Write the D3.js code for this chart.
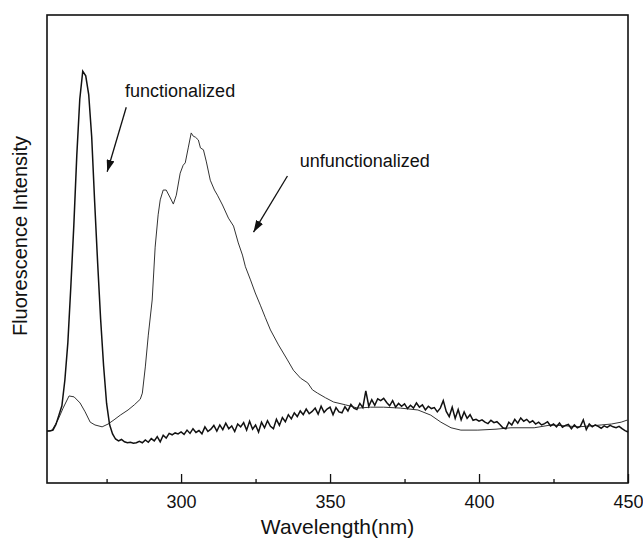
<!DOCTYPE html>
<html>
<head>
<meta charset="utf-8">
<script src="https://cdn.jsdelivr.net/npm/d3@7"></script>
<style>
  body { margin: 0; background: #ffffff; }
  text { font-family: "Liberation Sans", Arial, sans-serif; fill: #111; }
</style>
</head>
<body>
<div id="chart"></div>
<script>
// Fluorescence spectra, functionalized vs unfunctionalized

// functionalized: sharp peak near 267 nm, then a noisy baseline
const funcWavelength = [255, 256, 257, 258, 259, 260, 261, 262, 263, 264, 265, 266, 267, 268, 269, 270, 271, 272, 273, 274, 275, 276, 277,
  278, 279, 280, 281, 282, 283, 284, 285, 286, 287, 288, 289, 290, 291, 292, 293, 294, 295, 296, 297, 298, 299,
  300, 301, 302, 303, 304, 305, 306, 307, 308, 309, 310, 311, 312, 313, 314, 315, 316, 317, 318, 319,
  320, 321, 322, 323, 324, 325, 326, 327, 328, 329, 330, 331, 332, 333, 334, 335, 336, 337, 338, 339,
  340, 341, 342, 343, 344, 345, 346, 347, 348, 349, 350, 351, 352, 353, 354, 355, 356, 357, 358, 359,
  360, 361, 362, 363, 364, 365, 366, 367, 368, 369, 370, 371, 372, 373, 374, 375, 376, 377, 378, 379,
  380, 381, 382, 383, 384, 385, 386, 387, 388, 389, 390, 391, 392, 393, 394, 395, 396, 397, 398, 399,
  400, 401, 402, 403, 404, 405, 406, 407, 408, 409, 410, 411, 412, 413, 414, 415, 416, 417, 418, 419,
  420, 421, 422, 423, 424, 425, 426, 427, 428, 429, 430, 431, 432, 433, 434, 435, 436, 437, 438, 439,
  440, 441, 442, 443, 444, 445, 446, 447, 448, 449, 450];
const funcIntensity = [11.1, 11.1, 11.3, 12.5, 14.5, 16.5, 22, 30, 42, 55, 70, 82, 88, 87, 83, 74, 60, 47, 35, 25, 17, 12.5, 10.5,
  9.4, 9.0, 9.3, 8.8, 8.6, 8.7, 8.5, 8.6, 8.9, 8.6, 9.2, 8.7, 9.5, 9.0, 9.9, 8.8, 10.2, 9.6, 10.6, 10.3, 10.7, 10.5,
  10.9, 10.4, 11.3, 10.6, 11.6, 10.8, 11.2, 10.5, 12.0, 11.0, 11.5, 12.3, 11.1, 12.4, 11.4, 12.8, 11.6, 12.2, 11.0, 12.6,
  12.0, 12.9, 11.3, 13.2, 11.5, 12.4, 10.9, 13.0, 11.8, 13.3, 12.1, 11.6, 13.6, 12.3, 14.0, 13.1, 14.6, 13.7, 15.0, 14.2,
  15.4, 14.6, 15.8, 14.8, 15.3, 16.0, 14.7, 16.4, 15.1, 15.8, 16.2, 14.6, 16.1, 15.2, 15.0, 16.3, 15.4, 16.8, 16.0, 15.7,
  17.0, 16.1, 19.7, 16.4, 17.8, 16.6, 18.0, 17.6, 18.1, 17.2, 16.5, 17.6, 16.2, 17.0, 16.4, 16.9, 15.9, 16.6, 16.0, 17.1,
  16.2, 16.7, 15.6, 16.4, 15.9, 16.1, 15.2, 16.0, 17.6, 15.3, 14.2, 16.2, 13.8, 15.7, 13.5, 15.2, 13.8, 14.6, 13.4, 13.6,
  13.2, 13.5, 13.0, 12.7, 13.4, 12.9, 13.1, 12.5, 11.8, 11.6, 13.0, 12.4, 13.6, 12.8, 13.9, 13.2, 13.6, 12.9, 13.3, 12.6,
  13.0, 12.4, 12.7, 13.1, 12.2, 12.6, 12.0, 12.8, 11.9, 12.3, 12.5, 11.6, 12.4, 11.8, 12.1, 13.5, 11.4, 12.6, 12.0, 12.4,
  12.1, 11.7, 12.2, 11.9, 12.3, 12.0, 11.8, 12.1, 11.6, 11.2, 10.9];

// unfunctionalized: broad band with a shoulder near 294 nm and maximum near 303 nm
const unfuncWavelength = [255.3, 256.7, 258.7, 260.4, 262.4, 264.1, 266.1, 267.8, 269.5, 271.1, 273.5, 275.5, 277.5, 279.6, 282.2, 284.3,
  286.3, 287.0, 288.0, 289.0, 290.3, 291.3, 292.3, 293.0, 294.0, 295.0, 296.4, 297.4, 298.4, 299.7, 300.7, 301.4,
  302.4, 303.4, 304.1, 304.8, 305.8, 306.5, 307.5, 308.5, 309.8, 311.2, 312.2, 313.9, 315.9, 317.6, 319.2, 320.6,
  321.6, 323.3, 324.9, 326.6, 328.3, 330.0, 332.7, 335.7, 337.7, 340.1, 342.5, 344.1, 345.8, 348.5, 351.2, 355.2,
  359.3, 363.6, 368.0, 373.7, 379.5, 383.8, 387.2, 390.6, 393.9, 399.6, 405.7, 410.7, 418.5, 424.2, 429.2, 433.3,
  437.6, 441.0, 444.4, 447.7, 450.0];
const unfuncIntensity = [11.1, 11.3, 13.5, 16.0, 18.6, 18.4, 17.1, 15.2, 13.0, 12.4, 12.0, 12.6, 13.5, 14.5, 15.6, 16.7,
  17.9, 19.2, 24.8, 31.6, 39.1, 50.4, 57.3, 60.5, 62.6, 62.6, 60.9, 59.6, 61.5, 66.2, 67.9, 68.4,
  71.6, 74.8, 74.1, 73.9, 73.3, 71.6, 71.2, 68.6, 64.7, 62.6, 61.5, 59.4, 56.6, 54.9, 51.3, 48.7,
  46.2, 43.4, 40.6, 38.0, 35.3, 32.7, 29.5, 26.3, 24.1, 22.4, 21.4, 19.9, 19.2, 18.2, 17.3, 16.7,
  16.0, 16.2, 16.2, 16.0, 15.6, 14.5, 13.0, 11.8, 11.3, 11.3, 11.5, 11.8, 11.8, 12.4, 12.2, 12.0,
  12.2, 12.4, 12.6, 13.0, 13.5];

// axis ticks
const majorTicks = [300, 350, 400, 450];
const minorTicks = [275, 325, 375, 425];

// annotation labels with arrow start/end (nm, intensity)
const labelNames = ["functionalized", "unfunctionalized"];
const labelAnchor = [[281.2, 82.5], [339.8, 67.5]];
const arrowFrom = [[281.6, 80.3], [335.7, 65.6]];
const arrowTo = [[275.2, 66.5], [324.3, 53.6]];

const width = 643, height = 538;
const margin = {top: 15, right: 15, bottom: 55, left: 47};

const svg = d3.select("#chart")
    .append("svg")
    .attr("width", width)
    .attr("height", height);

const x = d3.scaleLinear()
    .domain([255, 450])
    .range([margin.left, width - margin.right]);
const y = d3.scaleLinear()
    .domain([0, 100])
    .range([height - margin.bottom, margin.top]);

// arrow head
svg.append("defs").append("marker")
    .attr("id", "head")
    .attr("viewBox", "0 0 12 8")
    .attr("refX", 12)
    .attr("refY", 4)
    .attr("markerWidth", 12)
    .attr("markerHeight", 8)
    .attr("markerUnits", "userSpaceOnUse")
    .attr("orient", "auto")
    .append("path")
    .attr("d", "M0,0 L12,4 L0,8 Z")
    .attr("fill", "#111");

// minor ticks (inward, unlabeled)
svg.append("g")
    .attr("transform", "translate(0," + y(0) + ")")
    .call(d3.axisBottom(x).tickValues(minorTicks).tickSizeInner(-4).tickSizeOuter(0).tickFormat(""))
    .call(g => g.select(".domain").remove())
    .call(g => g.selectAll("line").attr("stroke", "#111").attr("stroke-width", 1.3));

// major ticks with labels
svg.append("g")
    .attr("transform", "translate(0," + y(0) + ")")
    .call(d3.axisBottom(x).tickValues(majorTicks).tickSizeInner(-9).tickSizeOuter(0).tickPadding(12))
    .call(g => g.select(".domain").remove())
    .call(g => g.selectAll("line").attr("stroke", "#111").attr("stroke-width", 1.3))
    .call(g => g.selectAll("text")
        .attr("fill", "#111")
        .style("font-size", "18px")
        .style("font-family", "'Liberation Sans', Arial, sans-serif"));

// frame
svg.append("rect")
    .attr("x", x(255))
    .attr("y", y(100))
    .attr("width", x(450) - x(255))
    .attr("height", y(0) - y(100))
    .attr("fill", "none")
    .attr("stroke", "#111")
    .attr("stroke-width", 1.6);

const line = d3.line()
    .x(d => x(d[0]))
    .y(d => y(d[1]));

// unfunctionalized (thin)
svg.append("path")
    .datum(d3.zip(unfuncWavelength, unfuncIntensity))
    .attr("d", line)
    .attr("fill", "none")
    .attr("stroke", "#333")
    .attr("stroke-width", 1);

// functionalized (thicker)
svg.append("path")
    .datum(d3.zip(funcWavelength, funcIntensity))
    .attr("d", line)
    .attr("fill", "none")
    .attr("stroke", "#111")
    .attr("stroke-width", 1.5);

// annotations
labelNames.forEach((name, i) => {
    svg.append("text")
        .attr("x", x(labelAnchor[i][0]))
        .attr("y", y(labelAnchor[i][1]))
        .style("font-size", "18px")
        .text(name);
    svg.append("line")
        .attr("x1", x(arrowFrom[i][0]))
        .attr("y1", y(arrowFrom[i][1]))
        .attr("x2", x(arrowTo[i][0]))
        .attr("y2", y(arrowTo[i][1]))
        .attr("stroke", "#111")
        .attr("stroke-width", 1.3)
        .attr("marker-end", "url(#head)");
});

// axis titles
svg.append("text")
    .attr("x", (x(255) + x(450)) / 2)
    .attr("y", 534)
    .attr("text-anchor", "middle")
    .style("font-size", "21px")
    .text("Wavelength(nm)");

svg.append("text")
    .attr("transform", "translate(27,236) rotate(-90)")
    .attr("text-anchor", "middle")
    .style("font-size", "20px")
    .text("Fluorescence Intensity");
</script>
</body>
</html>
